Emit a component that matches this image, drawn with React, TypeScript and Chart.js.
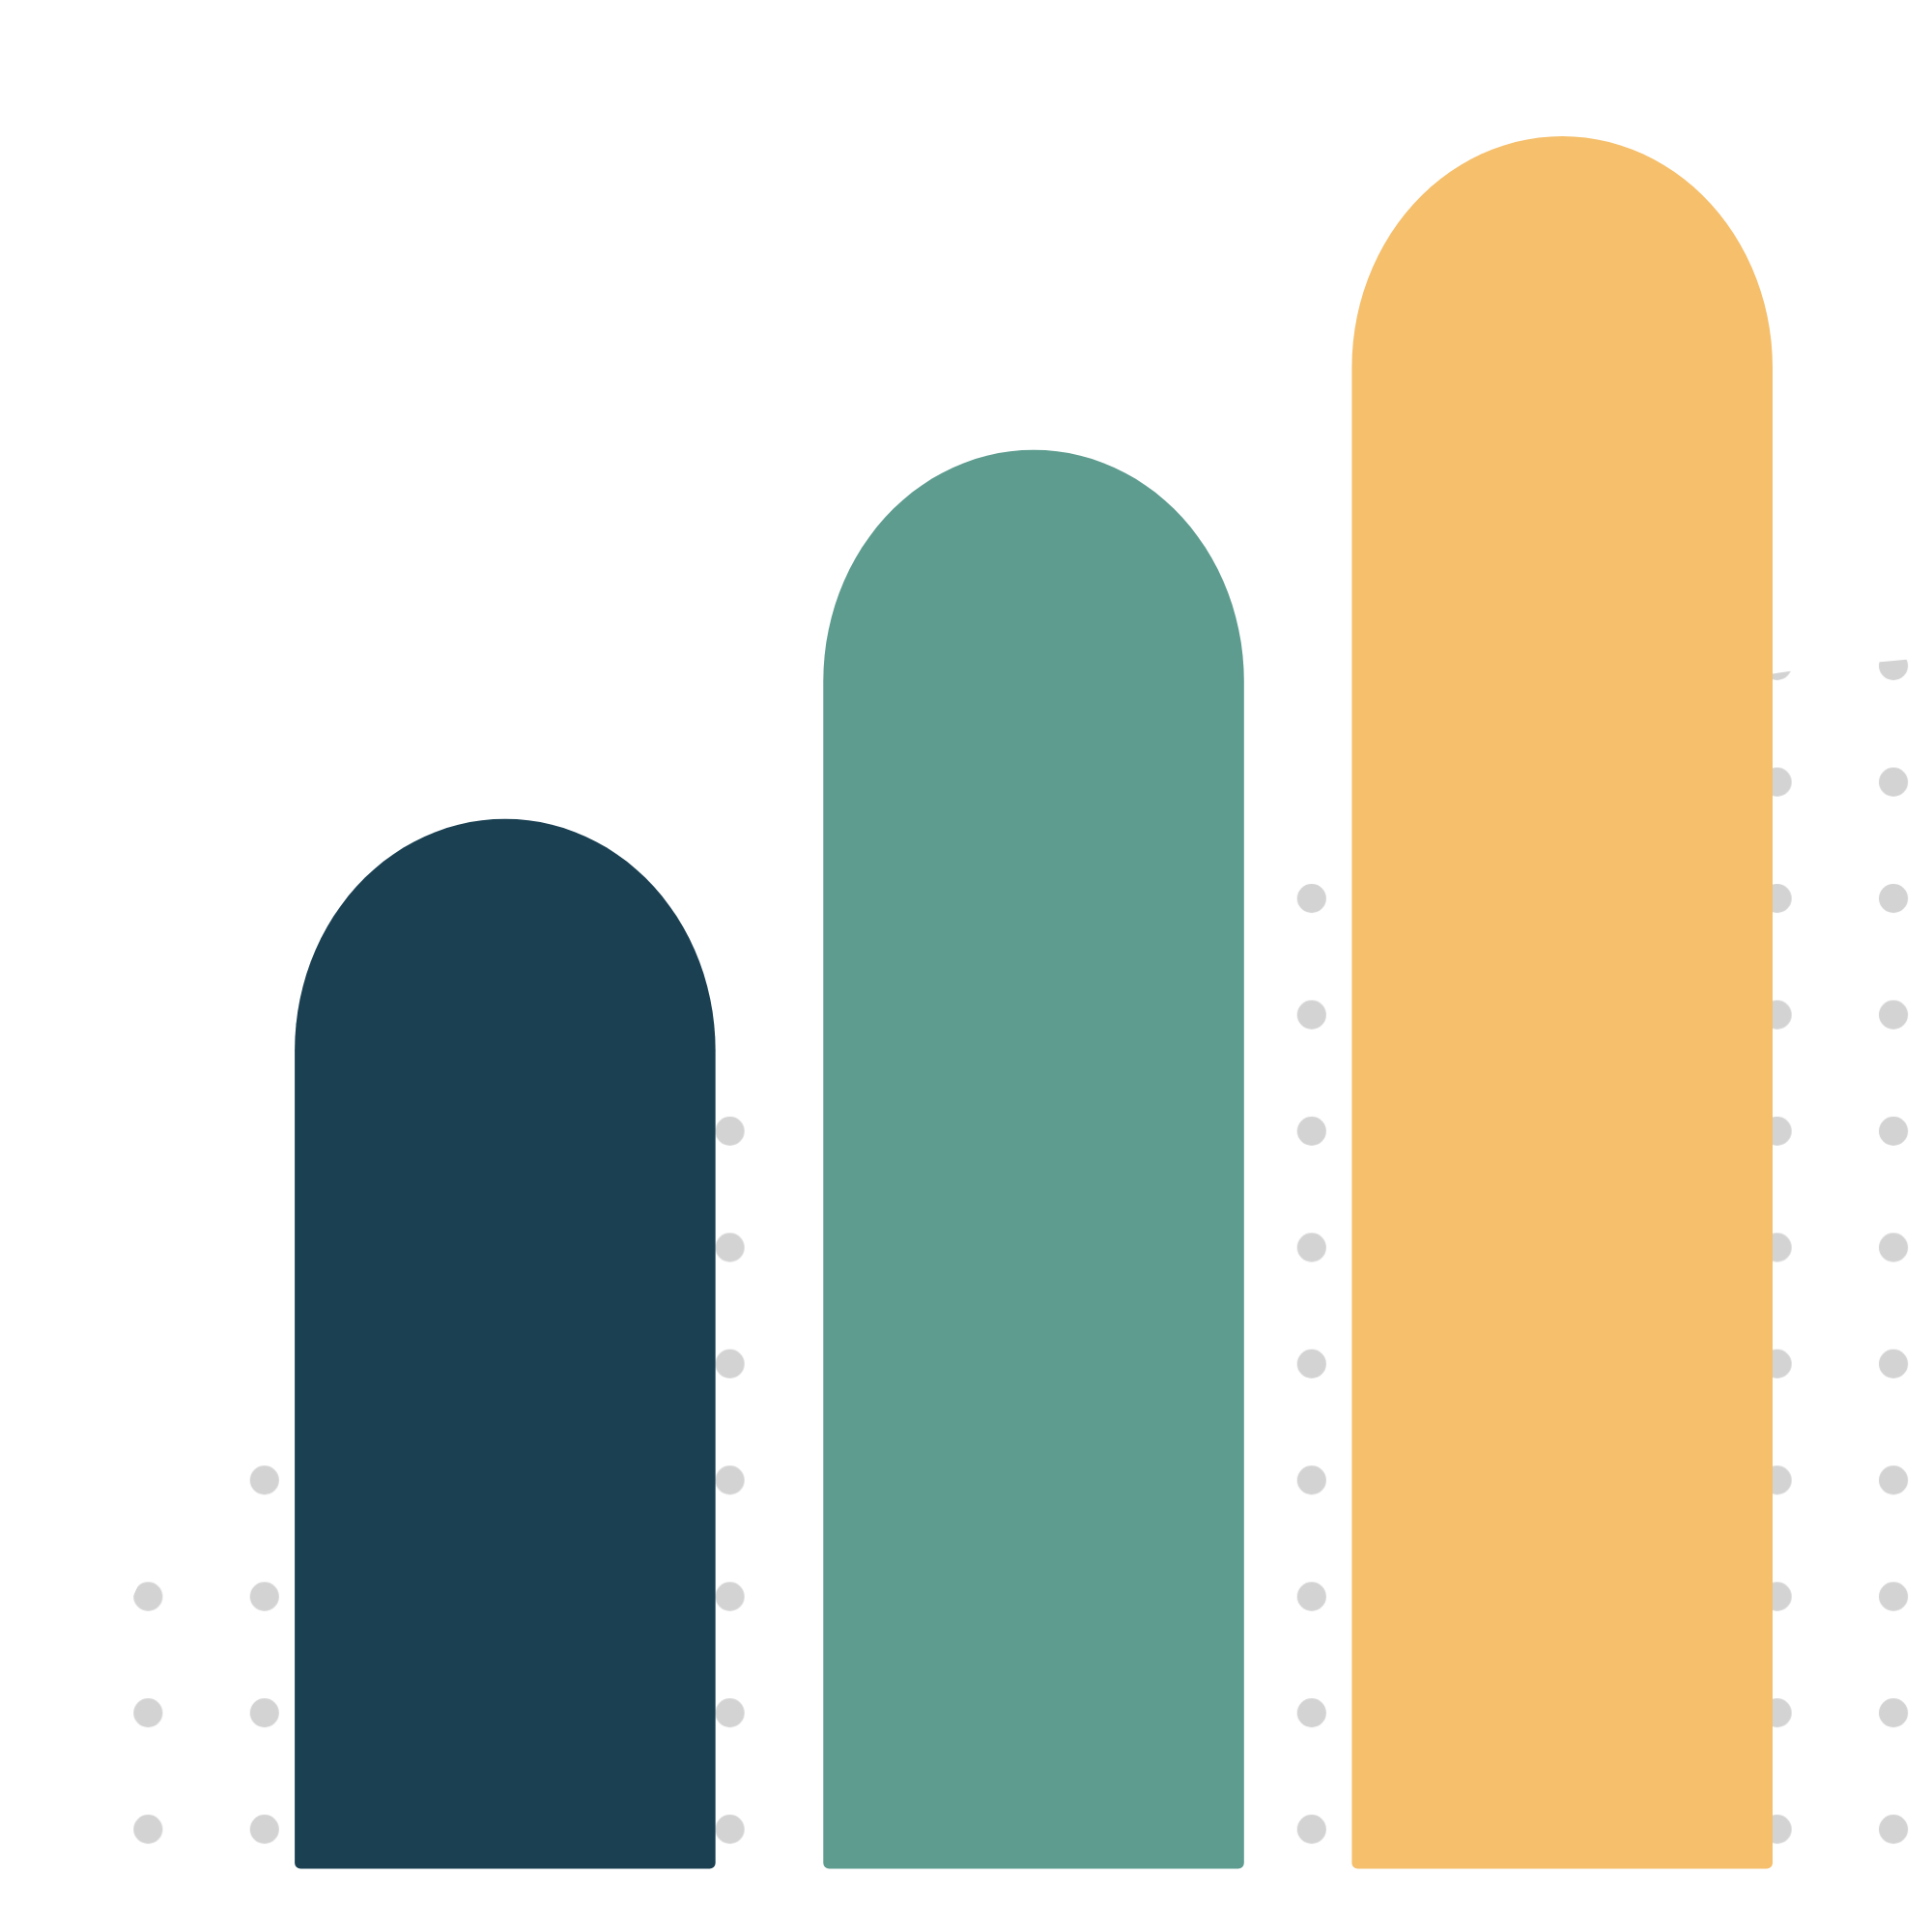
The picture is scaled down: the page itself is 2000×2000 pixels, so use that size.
import { useEffect, useRef } from "react"
import { Chart, registerables } from "chart.js"

Chart.register(...registerables)

// bars: position on the x axis, height, colour
const barX = [1, 2, 3]
const barValues = [60.6, 81.9, 100]
const barColors = ["#1a4052", "#5d9c8f", "#f5bf6c"]

// upper edge of the dotted backdrop, in the same units as the bars
const curveX = [0.127, 0.209, 0.3, 0.545, 0.958, 1.426, 1.963, 2.526, 2.786, 3.151, 3.416, 3.685]
const curveY = [-3.2, 8.06, 15.97, 26.35, 39.0, 47.93, 54.9, 61.31, 63.99, 67.44, 69.06, 69.9]

const X_MIN = 0.059
const X_MAX = 3.685
const Y_MIN = -3.206
const Y_MAX = 107.42

// grey dot texture used as the fill of the backdrop
function makeDots(ctx: CanvasRenderingContext2D) {
  const tile = document.createElement("canvas")
  tile.width = 120
  tile.height = 120
  const t = tile.getContext("2d")!
  t.fillStyle = "#d3d3d3"
  t.beginPath()
  t.arc(60, 60, 15, 0, Math.PI * 2)
  t.fill()
  const pattern = ctx.createPattern(tile, "repeat")!
  const s = 120.45 / 120
  pattern.setTransform(new DOMMatrix([s, 0, 0, s, -35.375, 18.625]))
  return pattern
}

// bars with a half-ellipse top and slightly rounded feet
const archBars = {
  id: "archBars",
  beforeDatasetDraw(chart: any, args: any) {
    if (args.meta.type !== "bar") return
    const ctx = chart.ctx
    const steps = 56
    args.meta.data.forEach((el: any) => {
      const { x, y, base, width } = el
      const rx = width / 2
      const h = rx * 1.1
      const rb = 6
      const left = x - rx
      const right = x + rx
      ctx.save()
      ctx.fillStyle = el.options.backgroundColor
      ctx.beginPath()
      ctx.moveTo(left, base - rb)
      ctx.lineTo(left, y + h)
      for (let k = 1; k <= steps; k++) {
        const phi = Math.PI - (Math.PI * k) / steps
        ctx.lineTo(x + rx * Math.cos(phi), y + h - h * Math.sin(phi))
      }
      ctx.lineTo(right, base - rb)
      ctx.arcTo(right, base, right - rb, base, rb)
      ctx.lineTo(left + rb, base)
      ctx.arcTo(left, base, left, base - rb, rb)
      ctx.closePath()
      ctx.fill()
      ctx.restore()
    })
    return false
  },
}

export default function App() {
  const chartRef = useRef<HTMLCanvasElement>(null)
  const chartInstance = useRef<Chart | null>(null)

  useEffect(() => {
    if (!chartRef.current) return
    if (chartInstance.current) chartInstance.current.destroy()

    const ctx = chartRef.current.getContext("2d")
    if (!ctx) return

    chartInstance.current = new Chart(ctx, {
      type: "bar",
      data: {
        datasets: [
          {
            type: "bar",
            data: barX.map((x, i) => ({ x, y: barValues[i] })),
            backgroundColor: barColors,
            barPercentage: 0.796,
            categoryPercentage: 1,
            order: 0,
          },
          {
            type: "line",
            data: curveX.map((x, i) => ({ x, y: curveY[i] })),
            fill: "start",
            backgroundColor: makeDots(ctx),
            borderColor: "transparent",
            borderWidth: 0,
            pointRadius: 0,
            cubicInterpolationMode: "monotone",
            order: 1,
          },
        ] as any,
      },
      options: {
        animation: false,
        responsive: true,
        maintainAspectRatio: false,
        events: [],
        layout: { padding: 0 },
        plugins: {
          legend: { display: false },
          tooltip: { enabled: false },
        },
        scales: {
          x: {
            type: "linear",
            display: false,
            offset: false,
            min: X_MIN,
            max: X_MAX,
            ticks: { stepSize: 1, includeBounds: false },
          },
          y: {
            display: false,
            min: Y_MIN,
            max: Y_MAX,
          },
        },
      },
      plugins: [archBars],
    })

    return () => {
      if (chartInstance.current) {
        chartInstance.current.destroy()
        chartInstance.current = null
      }
    }
  }, [])

  return (
    <div style={{ width: "100%", height: 1984, position: "relative" }}>
      <canvas ref={chartRef}></canvas>
    </div>
  )
}
